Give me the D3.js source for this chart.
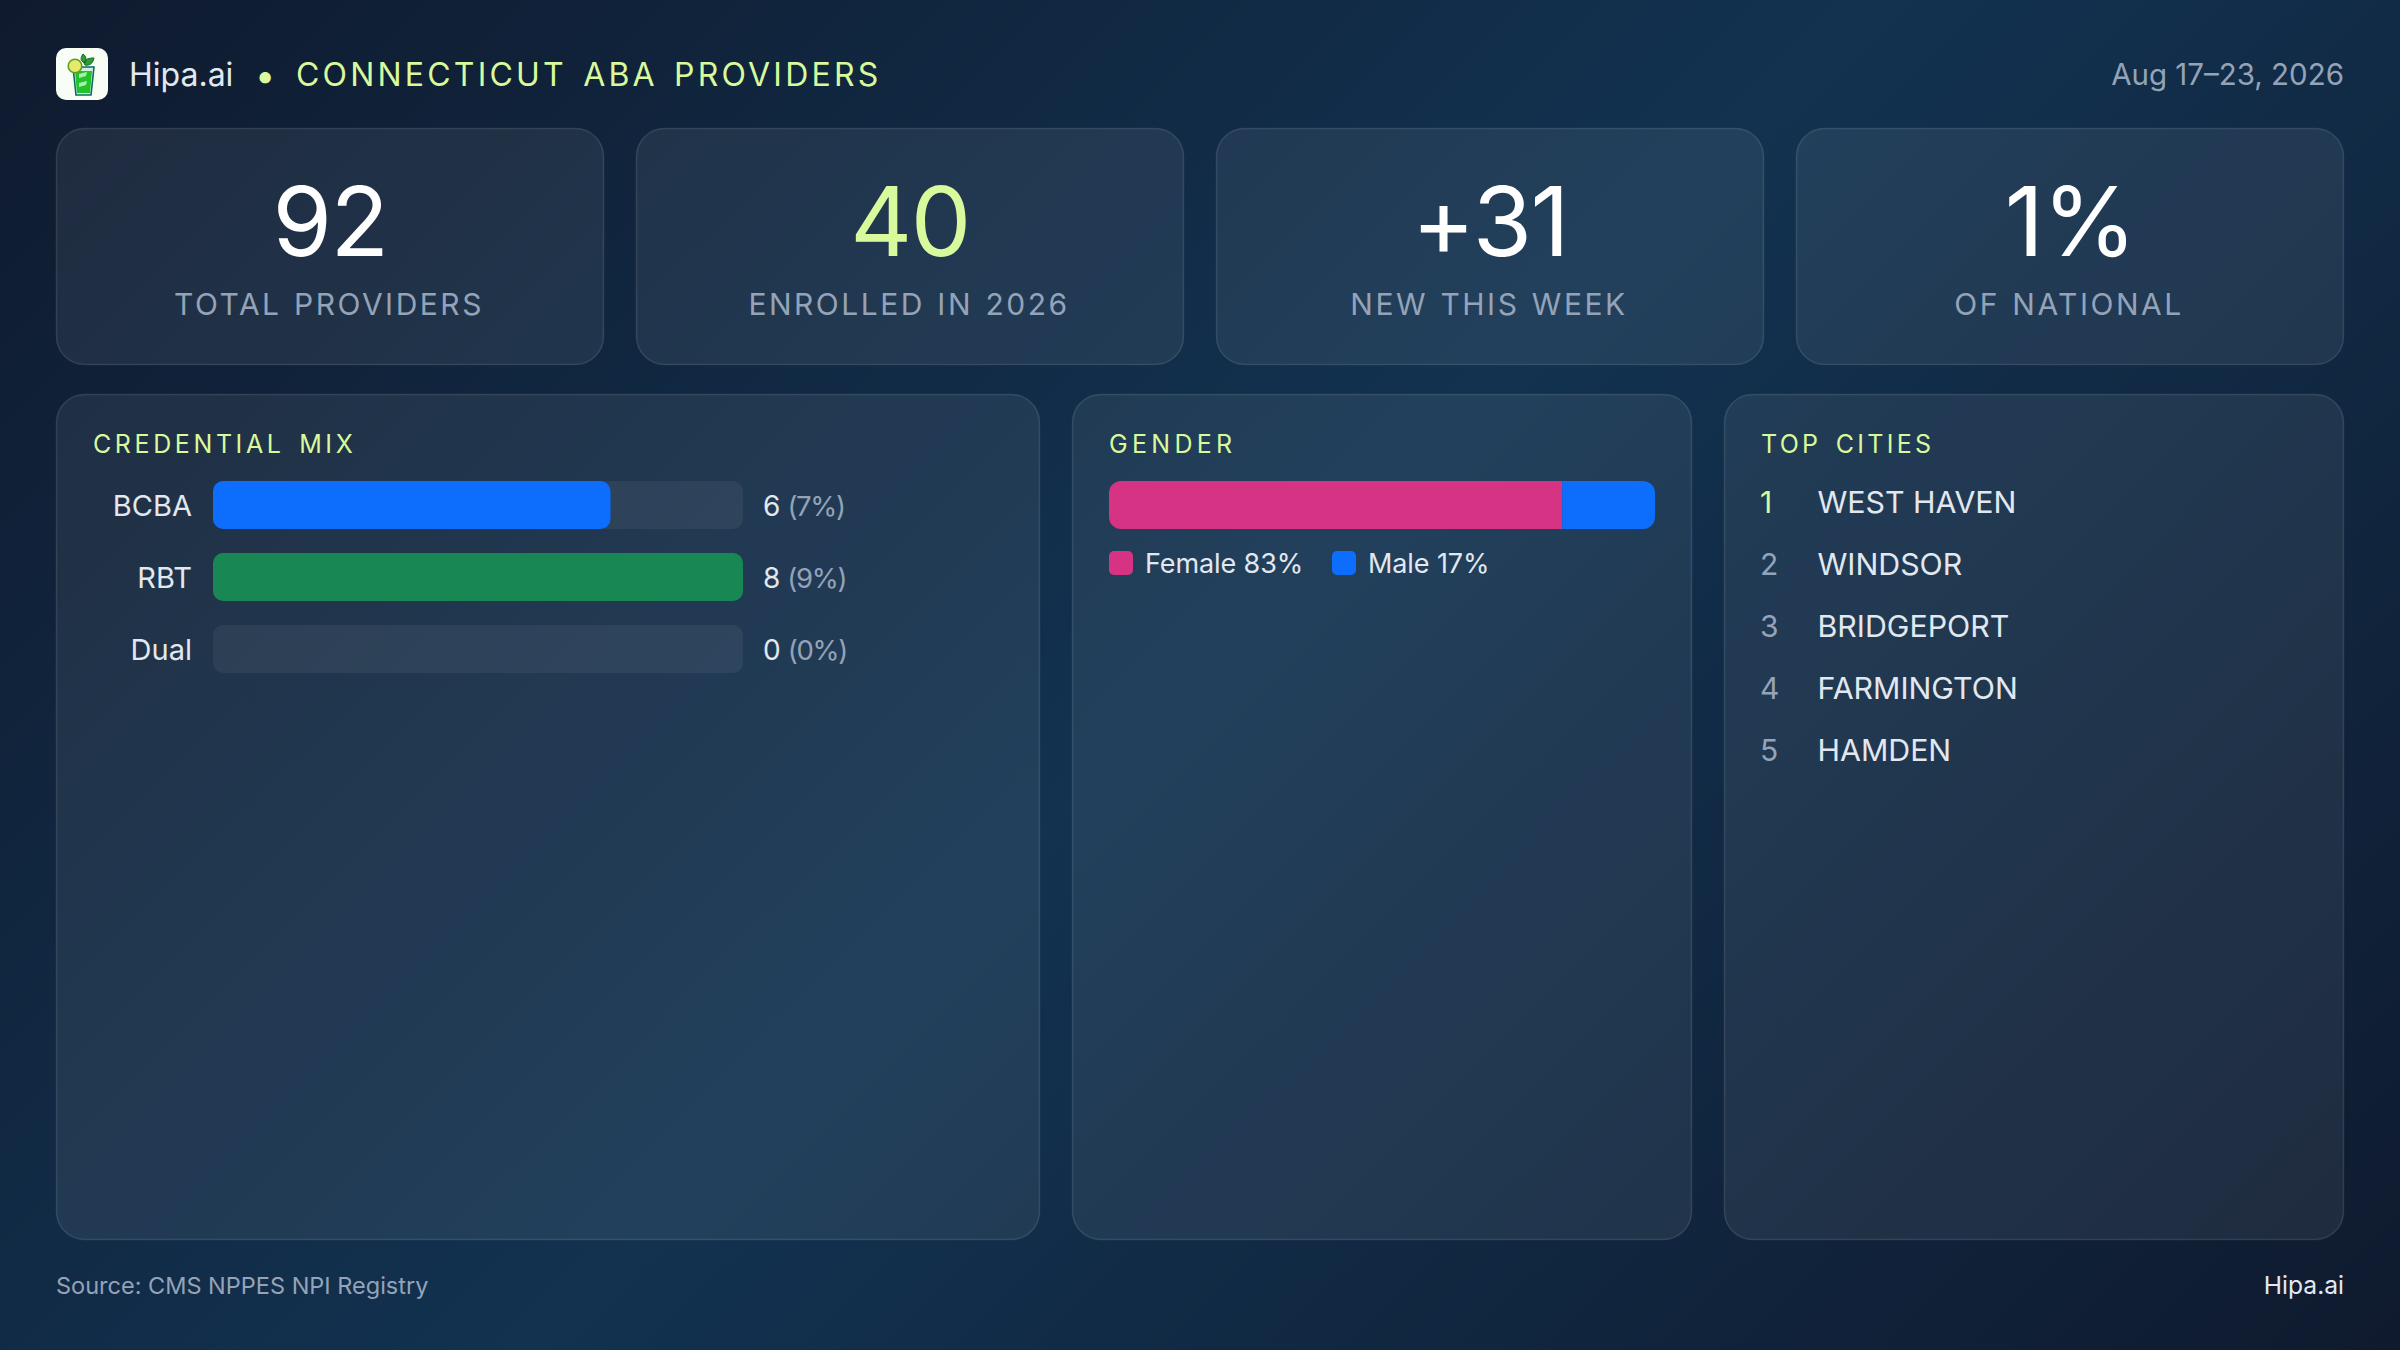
<!DOCTYPE html>
<html><head><meta charset="utf-8">
<script src="https://cdn.jsdelivr.net/npm/d3@7/dist/d3.min.js"></script>
<style>html,body{margin:0;padding:0;background:#0f172a;overflow:hidden}svg{display:block}text{font-family:Inter,"Noto Sans",sans-serif}</style>
</head><body><svg id="c" width="2400" height="1350"></svg>
<script>
const statValues=["92","40","+31","1%"];
const statLabels=["TOTAL PROVIDERS","ENROLLED IN 2026","NEW THIS WEEK","OF NATIONAL"];
const statColors=["#ffffff","#d9f99d","#ffffff","#ffffff"];
const credLabels=["BCBA","RBT","Dual"];
const credCounts=[6,8,0];
const credPercents=[7,9,0];
const credColors=["#0d6efd","#198754","#6c757d"];
const genderLabels=["Female","Male"];
const genderValues=[83,17];
const genderColors=["#d63384","#0d6efd"];
const cities=["WEST HAVEN","WINDSOR","BRIDGEPORT","FARMINGTON","HAMDEN"];
const ranks=[1,2,3,4,5];

const LIME="#d9f99d",MUTED="#94a3b8",TEXT="#e2e8f0";
const svg=d3.select("#c");
const defs=svg.append("defs");
const bg=defs.append("linearGradient").attr("id","bg").attr("gradientUnits","userSpaceOnUse")
 .attr("x1",262.5).attr("y1",-262.5).attr("x2",2137.5).attr("y2",1612.5);
[[0,"#0f1a2e"],[.5,"#123250"],[1,"#0f1a2e"]].forEach(s=>bg.append("stop").attr("offset",s[0]).attr("stop-color",s[1]));
svg.append("rect").attr("width",2400).attr("height",1350).attr("fill","url(#bg)");

function T(g,x,y,s,o={}){const t=g.append("text").attr("x",x).attr("y",y).text(s)
 .attr("font-size",o.size||28).attr("fill",o.fill||TEXT).attr("text-anchor",o.anchor||"start")
 .attr("font-weight",o.weight||400);
 if(o.ls!=null)t.attr("letter-spacing",o.ls); if(o.ws!=null)t.attr("word-spacing",o.ws); return t;}
function panel(x,y,w,h){return svg.append("rect").attr("x",x+.5).attr("y",y+.5).attr("width",w-1).attr("height",h-1).attr("rx",28)
 .attr("fill","#ffffff").attr("fill-opacity",.07).attr("stroke","#ffffff").attr("stroke-opacity",.12).attr("stroke-width",1.5);}

/* header: logo */
const logo=svg.append("g");
logo.append("rect").attr("x",56).attr("y",48).attr("width",52).attr("height",52).attr("rx",10).attr("fill","#f8fdf6");
logo.append("path").attr("d","M83 62c-3-2-2-5 0-8 3 2 4 6 2 9z M84 63c1-4 5-5 10-5-1 5-4 8-9 7z").attr("fill","#2e9e2e").attr("stroke","#14652f").attr("stroke-width",1);
logo.append("path").attr("d","M73 67H94L91 95H76Z").attr("fill","#cdeee0").attr("stroke","#0e6b60").attr("stroke-width",1.6);
logo.append("path").attr("d","M75 71H92L90 93H77Z").attr("fill","#22c32a");
logo.append("path").attr("d","M79 74L87 72 86 76 79 78Z M79 83L87 81 86 85 79 87Z").attr("fill","#a8f0a8");
logo.append("circle").attr("cx",75).attr("cy",66).attr("r",6.8).attr("fill","#e6ea6a").attr("stroke","#5e9e20").attr("stroke-width",1.6);

T(svg,129,86,"Hipa.ai",{size:32,fill:TEXT});
svg.append("text").attr("x",265).attr("y",87.5).attr("text-anchor","middle").attr("font-size",36).attr("fill",LIME).text("•");
T(svg,296,86,"CONNECTICUT ABA PROVIDERS",{size:32,fill:LIME,ls:3.2,ws:4});
T(svg,2344,85,"Aug 17–23, 2026",{size:29.5,fill:MUTED,anchor:"end"});

/* stat cards */
const cardX=d3.scaleBand().domain(d3.range(4)).range([56,2344]).paddingInner(32/580);
statValues.forEach((v,i)=>{
 const x=cardX(i),w=cardX.bandwidth();
 panel(x,128,w,237);
 T(svg,x+w/2,256,v,{size:96,fill:statColors[i],anchor:"middle",ls:-1.5});
 T(svg,x+w/2-1,314.5,statLabels[i],{size:30,fill:MUTED,anchor:"middle",ls:2.5,ws:1.5});
});

/* panels */
panel(56,394,984,846);panel(1072,394,620,846);panel(1724,394,620,846);
T(svg,93,453,"CREDENTIAL MIX",{size:25,fill:LIME,ls:3.6,ws:4});
T(svg,1109,453,"GENDER",{size:25,fill:LIME,ls:4.3});
T(svg,1761,453,"TOP CITIES",{size:25,fill:LIME,ls:3.3,ws:4});

/* credential bars */
const xCred=d3.scaleLinear().domain([0,d3.max(credCounts)]).range([213,743]);
const yCred=d3.scaleBand().domain(credLabels).range([481,673]).paddingInner(1/3).paddingOuter(0);
const rows=svg.append("g").selectAll("g").data(credLabels).join("g");
rows.append("rect").attr("x",xCred(0)).attr("y",d=>yCred(d)).attr("width",xCred.range()[1]-xCred(0)).attr("height",yCred.bandwidth()).attr("rx",10)
 .attr("fill","#ffffff").attr("fill-opacity",.06);
rows.append("rect").attr("x",xCred(0)).attr("y",d=>yCred(d)).attr("width",(d,i)=>xCred(credCounts[i])-xCred(0)).attr("height",yCred.bandwidth()).attr("rx",10)
 .attr("fill",(d,i)=>credColors[i]);
rows.each(function(d,i){
 const g=d3.select(this),b=yCred(d)+35;
 T(g,192,b,d,{size:29,fill:TEXT,anchor:"end"});
 const t=T(g,763,b,credCounts[i],{size:28,fill:TEXT});
 t.append("tspan").attr("fill",MUTED).attr("dx",7).attr("font-size",27.5).attr("letter-spacing",-1.3).text(`(${credPercents[i]}%)`);
});

/* gender */
const xG=d3.scaleLinear().domain([0,d3.sum(genderValues)]).range([1109,1655]);
defs.append("clipPath").attr("id","gclip").append("rect").attr("x",xG(0)).attr("y",481).attr("width",xG(100)-xG(0)).attr("height",48).attr("rx",12);
const cum=d3.cumsum(genderValues);
svg.append("g").attr("clip-path","url(#gclip)").selectAll("rect").data(genderValues).join("rect")
 .attr("x",(d,i)=>xG(cum[i]-d)).attr("y",481).attr("width",d=>xG(d)-xG(0)).attr("height",48).attr("fill",(d,i)=>genderColors[i]);
const legendX=[1109,1332];
genderLabels.forEach((l,i)=>{
 svg.append("rect").attr("x",legendX[i]).attr("y",551).attr("width",24).attr("height",24).attr("rx",5).attr("fill",genderColors[i]);
 T(svg,legendX[i]+36,573,`${l} ${genderValues[i]}%`,{size:27,fill:TEXT,ls:-0.1});
});

/* cities */
const yC=d3.scalePoint().domain(ranks).range([513,761]);
ranks.forEach((r,i)=>{
 T(svg,1760,yC(r),r,{size:30,fill:i===0?LIME:MUTED});
 T(svg,1817.5,yC(r),cities[i],{size:30.3,fill:TEXT});
});

/* footer */
T(svg,56,1294,"Source: CMS NPPES NPI Registry",{size:23.5,fill:MUTED});
T(svg,2344,1294,"Hipa.ai",{size:24.6,fill:TEXT,anchor:"end"});
</script></body></html>
